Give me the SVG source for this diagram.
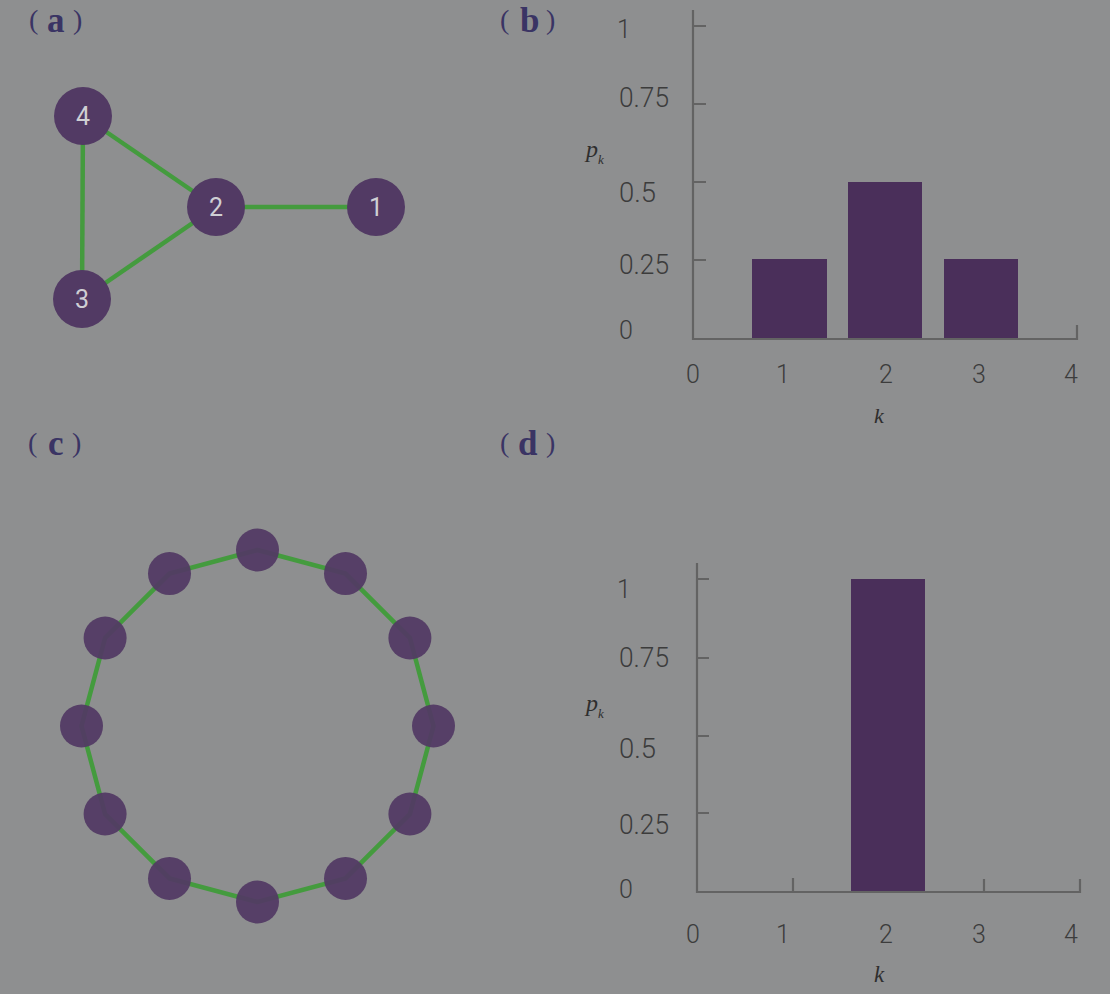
<svg xmlns="http://www.w3.org/2000/svg" width="1110" height="994" viewBox="0 0 1110 994">
<style>
.plabel{font-family:"Liberation Serif",serif;fill:#3a3464}
.par{font-size:28px}
.let{font-size:35px;font-weight:bold}
.edge{stroke:#449b3e;stroke-width:4.5;fill:none}
.node{fill:#523a64}
.nlab{font-family:"Roboto","DejaVu Sans",sans-serif;font-size:25px;fill:#cfcfd4;text-anchor:middle}
.axis{stroke:#636363;stroke-width:2.2;fill:none}
.bar{fill:#4a2f5a}
.tick{font-family:"Roboto","DejaVu Sans",sans-serif;font-weight:300;fill:#3c3c3c}
.big{font-size:28px}
.small{font-size:25px}
.xl{font-size:25px;text-anchor:middle}
.math{font-family:"Liberation Serif",serif;font-style:italic;fill:#2e2e2e}
</style>
<rect width="1110" height="994" fill="#8e8f90"/>

<!-- panel labels -->
<g id="label-a"><text class="plabel"><tspan class="par" x="29" y="29">(</tspan><tspan class="let" x="47" y="32">a</tspan><tspan class="par" x="73" y="29">)</tspan></text></g>
<g id="label-b"><text class="plabel"><tspan class="par" x="500" y="29">(</tspan><tspan class="let" x="520" y="32">b</tspan><tspan class="par" x="546" y="29">)</tspan></text></g>
<g id="label-c"><text class="plabel"><tspan class="par" x="28" y="452">(</tspan><tspan class="let" x="48" y="455">c</tspan><tspan class="par" x="72" y="452">)</tspan></text></g>
<g id="label-d"><text class="plabel"><tspan class="par" x="500" y="452">(</tspan><tspan class="let" x="518" y="455">d</tspan><tspan class="par" x="546" y="452">)</tspan></text></g>

<!-- panel a -->
<g id="connectors-a">
<line class="edge" x1="83" y1="116" x2="216" y2="207"/>
<line class="edge" x1="83" y1="116" x2="82" y2="299"/>
<line class="edge" x1="82" y1="299" x2="216" y2="207"/>
<line class="edge" x1="216" y1="207" x2="376" y2="207"/>
</g>
<g id="node-a4"><circle class="node" cx="83" cy="116" r="29"/><text class="nlab" x="83" y="125">4</text></g>
<g id="node-a2"><circle class="node" cx="216" cy="207" r="29"/><text class="nlab" x="216" y="216">2</text></g>
<g id="node-a1"><circle class="node" cx="376" cy="207" r="29"/><text class="nlab" x="376" y="216">1</text></g>
<g id="node-a3"><circle class="node" cx="82" cy="299" r="29"/><text class="nlab" x="82" y="308">3</text></g>

<!-- panel b -->
<g id="chart-b">
<rect class="bar" x="752" y="259" width="75" height="80"/>
<rect class="bar" x="848" y="182" width="74" height="157"/>
<rect class="bar" x="944" y="259" width="74" height="80"/>
<path class="axis" d="M693 10 V339 H1077 V325 M693 26 H706 M693 104 H706 M693 182 H706 M693 260 H706"/>
<text class="tick small" x="617" y="38">1</text>
<text class="tick big" x="619" y="107" textLength="50" lengthAdjust="spacingAndGlyphs">0.75</text>
<text class="tick big" x="619" y="202" textLength="37" lengthAdjust="spacingAndGlyphs">0.5</text>
<text class="tick big" x="619" y="274" textLength="50" lengthAdjust="spacingAndGlyphs">0.25</text>
<text class="tick small" x="619" y="339">0</text>
<text class="tick xl" x="693" y="383">0</text>
<text class="tick xl" x="783" y="383">1</text>
<text class="tick xl" x="886" y="383">2</text>
<text class="tick xl" x="979" y="383">3</text>
<text class="tick xl" x="1071" y="383">4</text>
<text class="math" x="586" y="157" font-size="24">p<tspan font-size="13" dy="7">k</tspan></text>
<text class="math" x="874" y="423" font-size="22">k</text>
</g>

<!-- panel c -->
<g id="connectors-c">
<polygon class="edge" points="257.5,550 345.5,573.6 409.9,638 433.5,726 409.9,814 345.5,878.4 257.5,902 169.5,878.4 105.1,814 81.5,726 105.1,638 169.5,573.6"/>
</g>
<g id="ring-nodes" opacity="0.93">
<g id="node-c1"><circle class="node" cx="257.5" cy="550" r="21.5"/></g>
<g id="node-c2"><circle class="node" cx="345.5" cy="573.6" r="21.5"/></g>
<g id="node-c3"><circle class="node" cx="409.9" cy="638" r="21.5"/></g>
<g id="node-c4"><circle class="node" cx="433.5" cy="726" r="21.5"/></g>
<g id="node-c5"><circle class="node" cx="409.9" cy="814" r="21.5"/></g>
<g id="node-c6"><circle class="node" cx="345.5" cy="878.4" r="21.5"/></g>
<g id="node-c7"><circle class="node" cx="257.5" cy="902" r="21.5"/></g>
<g id="node-c8"><circle class="node" cx="169.5" cy="878.4" r="21.5"/></g>
<g id="node-c9"><circle class="node" cx="105.1" cy="814" r="21.5"/></g>
<g id="node-c10"><circle class="node" cx="81.5" cy="726" r="21.5"/></g>
<g id="node-c11"><circle class="node" cx="105.1" cy="638" r="21.5"/></g>
<g id="node-c12"><circle class="node" cx="169.5" cy="573.6" r="21.5"/></g>
</g>

<!-- panel d -->
<g id="chart-d">
<rect class="bar" x="851" y="579" width="74" height="313"/>
<path class="axis" d="M697 563 V892 H1080 V879 M793 892 V878 M984 892 V879 M697 579 H709 M697 658 H709 M697 736 H709 M697 813 H709"/>
<text class="tick small" x="617" y="598">1</text>
<text class="tick big" x="619" y="667" textLength="50" lengthAdjust="spacingAndGlyphs">0.75</text>
<text class="tick big" x="619" y="758" textLength="37" lengthAdjust="spacingAndGlyphs">0.5</text>
<text class="tick big" x="619" y="834" textLength="50" lengthAdjust="spacingAndGlyphs">0.25</text>
<text class="tick small" x="619" y="898">0</text>
<text class="tick xl" x="693" y="943">0</text>
<text class="tick xl" x="783" y="943">1</text>
<text class="tick xl" x="886" y="943">2</text>
<text class="tick xl" x="979" y="943">3</text>
<text class="tick xl" x="1071" y="943">4</text>
<text class="math" x="586" y="711" font-size="24">p<tspan font-size="13" dy="7">k</tspan></text>
<text class="math" x="874" y="982" font-size="23">k</text>
</g>
</svg>
